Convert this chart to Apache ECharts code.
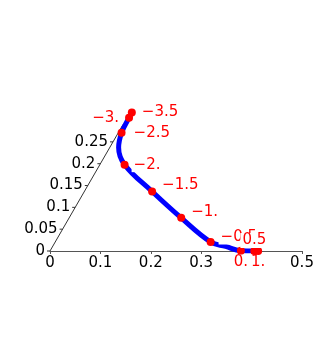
<!DOCTYPE html>
<html>
<head>
<meta charset="utf-8">
<script src="https://cdn.jsdelivr.net/npm/echarts@6/dist/echarts.min.js"></script>
<style>
  html, body { margin: 0; padding: 0; background: #fff; }
  #chart { width: 328px; height: 353px; }
</style>
</head>
<body>
<div id="chart"></div>
<script>
// labelled parameter points, in skewed (a, b) coordinates; b axis is at 60 degrees
const pointLabels = ['−3.5', '−3.', '−2.5', '−2.', '−1.5', '−1.', '−0.5', '0.', '0.5', '1.']
const pointA = [0.0036, 0.0042, 0.0066, 0.0491, 0.1344, 0.2224, 0.3083, 0.3785, 0.4054, 0.4130]
const pointB = [0.3175, 0.3053, 0.2708, 0.1978, 0.1364, 0.0759, 0.0207, 0.0005, 0, 0]

// the curve itself (labelled points plus a few in between)
const curveA = [0.0036, 0.0042, 0.0066, 0.0177, 0.0491, 0.1344, 0.2224, 0.3083, 0.3434, 0.3785, 0.4054, 0.4130]
const curveB = [0.3175, 0.3053, 0.2708, 0.2369, 0.1978, 0.1364, 0.0759, 0.0207, 0.0104, 0.0005, 0, 0]

// skewed axis ticks
const bTicks = [0, 0.05, 0.1, 0.15, 0.2, 0.25]
const bTickLabels = ['0', '0.05', '0.1', '0.15', '0.2', '0.25']
const bAxisEnd = 0.29

const FONT = 'DejaVu Sans'

// skewed -> cartesian
function toXY(a, b) {
  return [a + b * 0.5, b * Math.sqrt(3) / 2]
}

// where each label sits
const labelPlace = [
  { position: 'right', distance: 4 },
  { position: 'left', distance: 4 },
  { position: 'right', distance: 6 },
  { position: 'right', distance: 3 },
  { position: 'right', distance: 4, offset: [0, -6] },
  { position: 'right', distance: 4, offset: [0, -6] },
  { position: 'right', distance: 4, offset: [0, -5] },
  { position: 'bottom', distance: 0 },
  { position: 'top', distance: -1 },
  { position: 'bottom', distance: 0 },
]

const chart = echarts.init(document.getElementById('chart'))

const curveData = curveA.map((a, i) => toXY(a, curveB[i]))
const pointData = pointA.map((a, i) => ({
  value: toXY(a, pointB[i]),
  label: Object.assign({ show: true, formatter: pointLabels[i] }, labelPlace[i]),
}))

const option = {
  animation: false,
  grid: { left: 50, width: 252, top: 99.8, height: 151.2 },
  xAxis: {
    type: 'value',
    min: 0,
    max: 0.5,
    interval: 0.1,
    z: 0,
    splitLine: { show: false },
    axisLine: { lineStyle: { color: '#555', width: 1 } },
    axisTick: { length: 3, lineStyle: { color: '#555' } },
    axisLabel: { color: '#000', fontSize: 15, fontFamily: FONT, margin: 5 },
  },
  yAxis: {
    type: 'value',
    min: 0,
    max: 0.3,
    show: false,
  },
  series: [
    {
      // skewed axis line
      type: 'line',
      data: [toXY(0, 0), toXY(0, bAxisEnd)],
      showSymbol: false,
      lineStyle: { color: '#333', width: 1 },
      z: 1,
      silent: true,
    },
    {
      // skewed axis ticks + labels
      type: 'custom',
      data: bTicks.map((b, i) => [b, i]),
      renderItem(params, api) {
        const b = api.value(0)
        const idx = api.value(1)
        const c = api.coord(toXY(0, b))
        return {
          type: 'group',
          children: [
            {
              type: 'line',
              shape: { x1: c[0], y1: c[1], x2: c[0] - 3, y2: c[1] },
              style: { stroke: '#333', lineWidth: 1 },
            },
            {
              type: 'text',
              x: c[0] - 5,
              y: c[1],
              style: {
                text: bTickLabels[idx],
                align: 'right',
                verticalAlign: 'middle',
                font: '15px "' + FONT + '"',
                fill: '#000',
              },
            },
          ],
        }
      },
      z: 1,
      silent: true,
    },
    {
      type: 'line',
      data: curveData,
      smooth: 0.4,
      showSymbol: false,
      lineStyle: { color: '#0000ff', width: 5 },
      z: 2,
    },
    {
      type: 'scatter',
      data: pointData,
      symbolSize: 8,
      itemStyle: { color: '#ff0000', opacity: 1 },
      label: {
        color: '#ff0000',
        opacity: 1,
        fontSize: 15,
        fontFamily: FONT,
        backgroundColor: '#fff',
        padding: [0, 2],
      },
      z: 3,
      zlevel: 1,
    },
  ],
}

chart.setOption(option)
</script>
</body>
</html>
